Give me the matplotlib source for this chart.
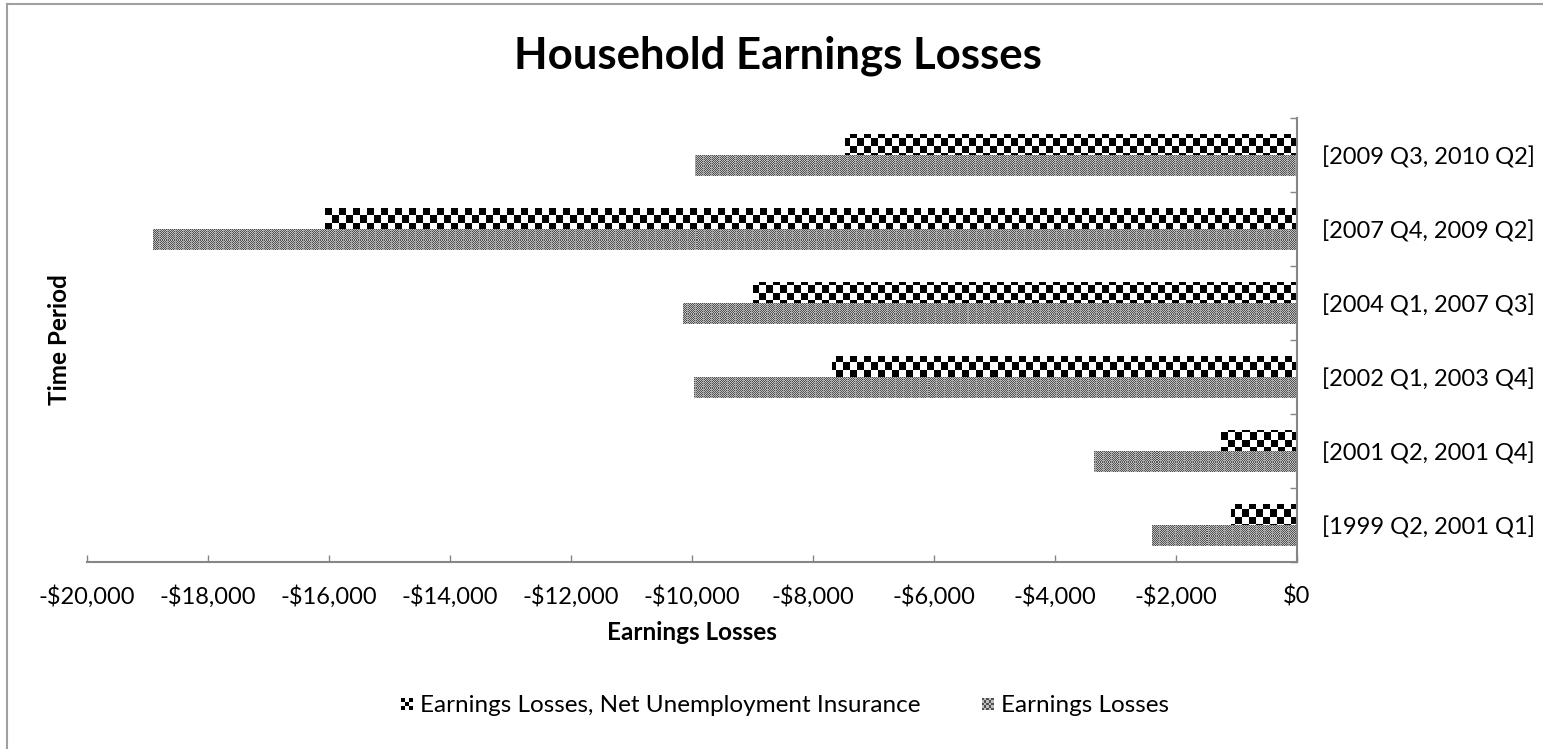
import numpy as np
import matplotlib
matplotlib.use("Agg")
import matplotlib.pyplot as plt
from matplotlib.colors import ListedColormap
from matplotlib.lines import Line2D
from matplotlib.patches import Patch, Rectangle
from matplotlib.legend_handler import HandlerBase
from matplotlib.ticker import FuncFormatter, FixedLocator

plt.rcParams["font.family"] = ["Lato", "DejaVu Sans"]

periods = ["[1999 Q2, 2001 Q1]", "[2001 Q2, 2001 Q4]", "[2002 Q1, 2003 Q4]",
           "[2004 Q1, 2007 Q3]", "[2007 Q4, 2009 Q2]", "[2009 Q3, 2010 Q2]"]
net_ui_losses = [-1090, -1260, -7690, -8990, -16070, -7470]
earnings_losses = [-2400, -3360, -9970, -10150, -18910, -9950]
x_ticks = list(range(-20000, 1, 2000))

W, H, DPI = 1543, 749, 100
fig = plt.figure(figsize=(W / DPI, H / DPI), dpi=DPI)
ax_l, ax_r, ax_t, ax_b = 87, 1297, 118, 562
ax = fig.add_axes([ax_l / W, 1 - ax_b / H, (ax_r - ax_l) / W, (ax_b - ax_t) / H])

y = np.arange(len(periods))
bh = 0.285
net_bars = ax.barh(y + bh / 2, net_ui_losses, height=bh, color="none", edgecolor="none")
gross_bars = ax.barh(y - bh / 2, earnings_losses, height=bh, color="none", edgecolor="none")

# pixel-sized fill patterns, clipped to each bar
pw, ph = ax_r - ax_l, ax_b - ax_t
rr, cc = np.mgrid[0:ph, 0:pw]
checker = ((rr // 7 + cc // 7) % 2).astype(float)
dither = ((rr + cc) % 2).astype(float)
dither[:, cc[0] % 8 == 0] = 0.5
ext = (-20000, 0, -0.5, len(periods) - 0.5)
cm_check = ListedColormap(["white", "black"])
cm_dither = ListedColormap(["#c0c0c0", "#a4a4a4", "#515151"])
for bar in net_bars:
    im = ax.imshow(checker, cmap=cm_check, extent=ext, aspect="auto",
                   interpolation="nearest", zorder=2, vmin=0, vmax=1)
    im.set_clip_path(bar)
for bar in gross_bars:
    im = ax.imshow(dither, cmap=cm_dither, extent=ext, aspect="auto",
                   interpolation="nearest", zorder=2, vmin=0, vmax=1)
    im.set_clip_path(bar)
ax.set_xlim(-20000, 0)
ax.set_ylim(-0.5, len(periods) - 0.5)

axis_gray = "#868686"
for side in ["top", "left"]:
    ax.spines[side].set_visible(False)
for side in ["bottom", "right"]:
    ax.spines[side].set_color(axis_gray)
    ax.spines[side].set_linewidth(1.5)

ax.set_xticks(x_ticks)
ax.xaxis.set_major_formatter(FuncFormatter(
    lambda v, p: "$0" if v == 0 else ("-" if v < 0 else "") + "${:,.0f}".format(abs(v))))
ax.tick_params(axis="x", direction="in", length=5, width=1, color=axis_gray,
               labelsize=17, pad=17)

ax.yaxis.tick_right()
ax.yaxis.set_major_locator(FixedLocator(np.arange(-0.5, len(periods), 1.0)))
ax.yaxis.set_major_formatter(FuncFormatter(lambda v, p: ""))
ax.yaxis.set_minor_locator(FixedLocator(y))
ax.set_yticklabels(periods, minor=True)
ax.tick_params(axis="y", which="major", direction="in", length=5, width=1, color=axis_gray)
ax.tick_params(axis="y", which="minor", length=0, labelsize=17, pad=18)

ax.set_xlabel("Earnings Losses", fontsize=17.5, fontweight="bold", labelpad=9)
fig.text(60 / W, 1 - 340 / H, "Time Period", rotation=90, fontsize=17.5,
         fontweight="bold", ha="center", va="center")
fig.text(778 / W, 1 - 56 / H, "Household Earnings Losses", fontsize=31.5,
         fontweight="bold", ha="center", va="center")


class SwatchHandler(HandlerBase):
    def __init__(self, colors, n):
        super().__init__()
        self.colors, self.n = colors, n

    def create_artists(self, legend, orig_handle, xdescent, ydescent,
                       width, height, fontsize, trans):
        s = min(width, height)
        x0 = -xdescent + (width - s) / 2
        y0 = -ydescent + (height - s) / 2
        d = s / self.n
        arts = []
        for i in range(self.n):
            for j in range(self.n):
                c = self.colors[(i + j) % 2]
                arts.append(Rectangle((x0 + i * d, y0 + j * d), d, d, facecolor=c,
                                      edgecolor="none", transform=trans))
        return arts


h_net = Patch(label="Earnings Losses, Net Unemployment Insurance")
h_gross = Patch(label="Earnings Losses")
fig.legend(handles=[h_net, h_gross], loc="center", bbox_to_anchor=(785 / W, 1 - 706 / H),
           ncol=2, frameon=False, fontsize=17.5, handlelength=0.5, handleheight=0.5,
           handletextpad=0.3, columnspacing=2.5,
           handler_map={h_net: SwatchHandler(["black", "white"], 3),
                        h_gross: SwatchHandler(["#515151", "#c0c0c0"], 5)})

# chart frame, top and left edges
border = "#a0a0a0"
fig.add_artist(Line2D([7 / W, 7 / W], [0, 1 - 4 / H], color=border, lw=1.5))
fig.add_artist(Line2D([7 / W, 1], [1 - 4 / H, 1 - 4 / H], color=border, lw=1.5))

fig.savefig("out.png", dpi=DPI)
